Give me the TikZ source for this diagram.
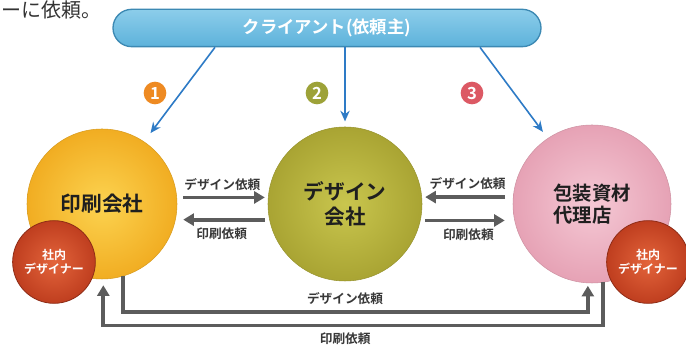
\documentclass[tikz,border=0pt]{standalone}
\usepackage{fontspec}
\setmainfont{Noto Sans CJK JP}[BoldFont={Noto Sans CJK JP Bold}]
\usetikzlibrary{arrows.meta,calc}

\definecolor{clientfill}{HTML}{5DB2DB}
\definecolor{clienttop}{HTML}{8CCDEA}
\definecolor{clientedge}{HTML}{3C89B3}
\definecolor{arrowblue}{HTML}{2E7BC6}
\definecolor{printin}{HTML}{FCD350}
\definecolor{printout}{HTML}{F1AD22}
\definecolor{designin}{HTML}{C9C64E}
\definecolor{designout}{HTML}{A9A433}
\definecolor{packin}{HTML}{F5C9D5}
\definecolor{packout}{HTML}{E6A2B5}
\definecolor{staffin}{HTML}{E3643B}
\definecolor{staffout}{HTML}{BF3E1F}
\definecolor{staffedge}{HTML}{8E2C16}
\definecolor{numone}{HTML}{EE8A22}
\definecolor{numtwo}{HTML}{9DA238}
\definecolor{numthree}{HTML}{DC5964}

\tikzset{
  clientbar/.style={rectangle, rounded corners=14pt, minimum width=321pt, minimum height=28pt,
    draw=clientedge, line width=1pt, top color=clienttop, bottom color=clientfill,
    text=white, font=\bfseries\fontsize{13}{14}\selectfont},
  company/.style={circle, inner sep=0pt, align=center, text=black!88,
    font=\bfseries\fontsize{15.5}{19}\selectfont},
  staff/.style={circle, inner sep=0pt, minimum size=62pt, align=center, draw=staffedge, line width=0.6pt,
    inner color=staffin, outer color=staffout, text=white, font=\bfseries\fontsize{9}{10.5}\selectfont},
  numdot/.style={circle, inner sep=0pt, minimum size=17pt, text=white,
    font=\bfseries\fontsize{12.5}{13}\selectfont},
  bluearrow/.style={draw=arrowblue, line width=1.2pt, -{Stealth[length=8pt,width=7pt]}},
  reqarrow/.style={draw=black!64, line width=2.8pt, -{Triangle[length=8pt,width=9pt]}},
  reqlabel/.style={inner sep=1pt, text=black!78, font=\bfseries\fontsize{9.5}{11}\selectfont}
}

\begin{document}
\begin{tikzpicture}[x=0.75pt,y=0.75pt,yscale=-1,xscale=1]
%Background
\fill[white] (0,0) rectangle (686,348);
\useasboundingbox (0,0) rectangle (686,348);

%Text fragment of page
\node[anchor=base west, inner sep=0pt, text=black!80, font=\fontsize{15}{15}\selectfont] (cut) at (1,18) {ーに依頼。};

%Rounded Rect [client]
\node[clientbar] (client) at (327,28) {クライアント(依頼主)};

%Circles
\node[company, minimum size=112.5pt, draw=printout!90!black, line width=0.4pt,
  inner color=printin, outer color=printout] (print) at (102,204) {印刷会社};
\node[company, minimum size=115.5pt, draw=designout!90!black, line width=0.4pt,
  inner color=designin, outer color=designout] (design) at (345,204) {デザイン\\会社};
\node[company, minimum size=118.5pt, draw=packout!90!black, line width=0.4pt, align=left,
  inner color=packin, outer color=packout, font=\bfseries\fontsize{14.5}{16.5}\selectfont] (pack) at (592,204) {包装資材\\代理店};

%Small circles
\node[staff] (printstaff) at (54,262) {社内\\デザイナー};
\node[staff] (packstaff) at (648,262) {社内\\デザイナー};

%Numbers
\node[numdot, fill=numone] (num1) at (155,93) {1};
\node[numdot, fill=numtwo] (num2) at (317,93) {2};
\node[numdot, fill=numthree] (num3) at (472,93) {3};

%Straight Lines [client to companies]
\draw[bluearrow, shorten >=8pt] ($(client.south)+(-112,0)$) -- (print.56);
\draw[bluearrow, shorten >=4pt] (client.south -| design.north) -- (design.north);
\draw[bluearrow, shorten >=6pt] ($(client.south)+(153,0)$) -- (pack.124);

%Straight Lines [between circles]
\draw[reqarrow, shorten <=4.7pt, shorten >=2.2pt] (print.5) -- (print.5 -| design.west)
  node[midway, above=3pt, reqlabel] {デザイン依頼};
\draw[reqarrow, shorten <=2.2pt, shorten >=5.7pt] (print.-12 -| design.west) -- (print.-12)
  node[midway, below=4pt, reqlabel] {印刷依頼};
\draw[reqarrow, shorten <=6pt, shorten >=2.2pt] (pack.175) -- (pack.175 -| design.east)
  node[midway, above=3pt, reqlabel] {デザイン依頼};
\draw[reqarrow, shorten <=2.2pt, shorten >=7.3pt] (pack.-168 -| design.east) -- (pack.-168)
  node[midway, below=4pt, reqlabel] {印刷依頼};

%Straight Lines [bottom]
\draw[reqarrow, shorten >=2pt] (print.-74) -- ++(0,36) -| (pack.-93)
  node[pos=0.239, above=3pt, reqlabel] {デザイン依頼};
\draw[reqarrow, shorten >=4.5pt] (pack.-82) -- ++(0,43) -| (print.-89)
  node[pos=0.258, below=3pt, reqlabel] {印刷依頼};
\end{tikzpicture}
\end{document}
